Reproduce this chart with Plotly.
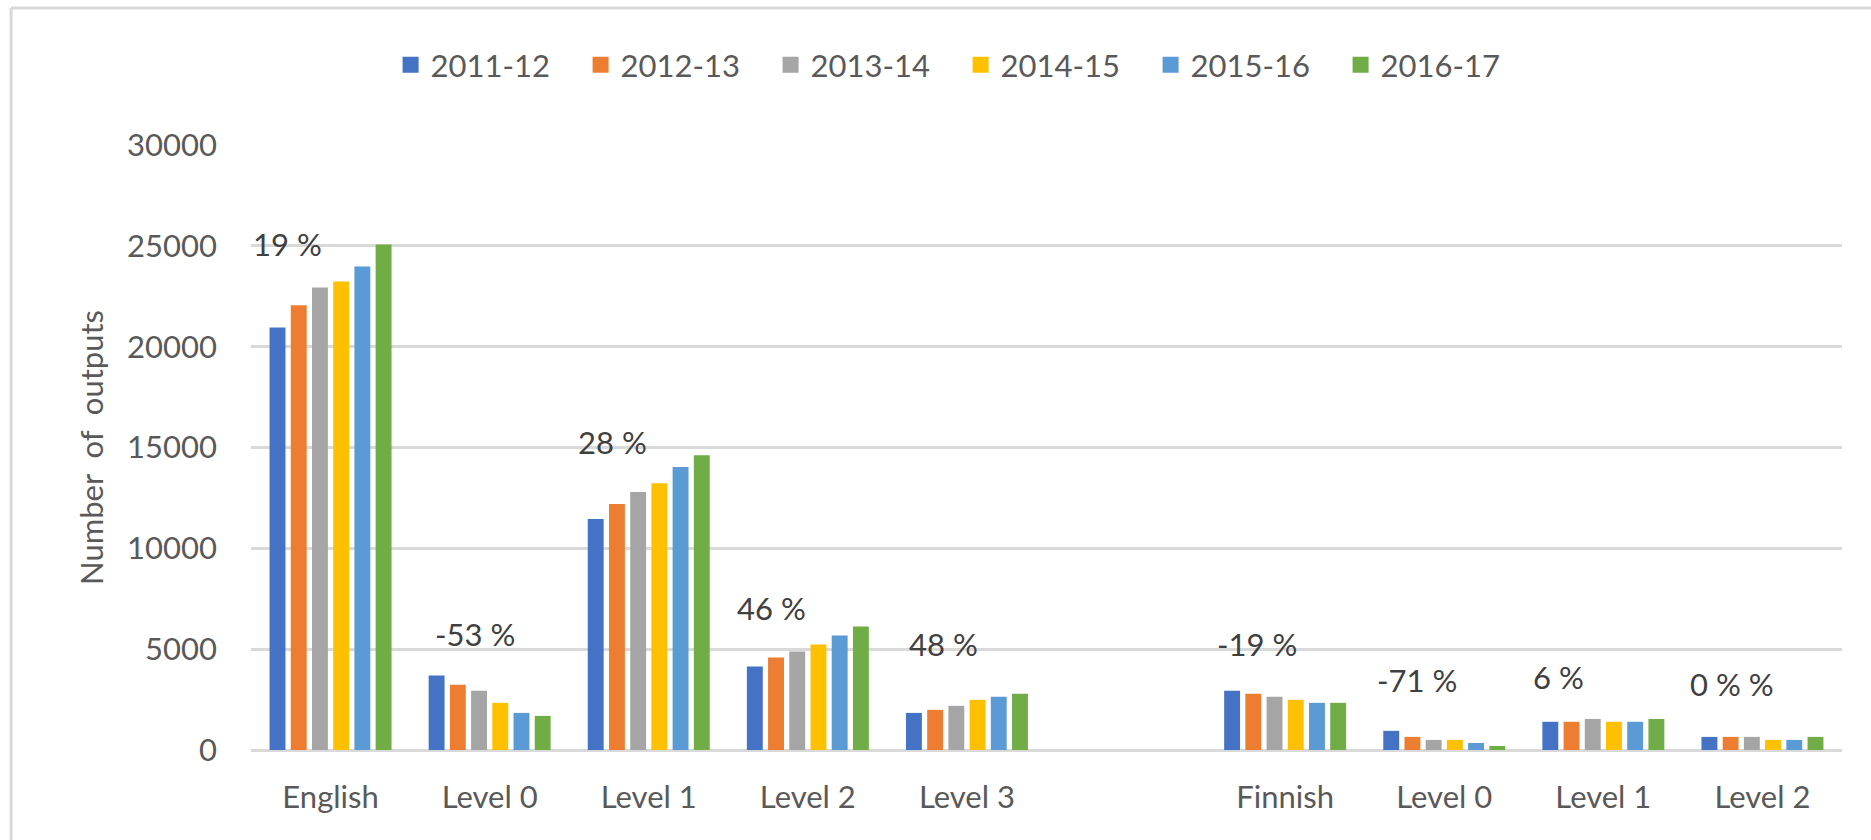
import plotly.graph_objects as go

categories = ["English", "Level 0", "Level 1", "Level 2", "Level 3", "",
              "Finnish", "Level 0", "Level 1", "Level 2"]
years = ["2011-12", "2012-13", "2013-14", "2014-15", "2015-16", "2016-17"]

# one list per year; None marks the empty slot between the two language groups
v_2011_12 = [20950, 3690, 11450, 4140, 1840, None, 2940, 950, 1400, 650]
v_2012_13 = [22050, 3240, 12200, 4590, 1990, None, 2790, 650, 1400, 650]
v_2013_14 = [22930, 2940, 12790, 4880, 2190, None, 2640, 500, 1540, 650]
v_2014_15 = [23230, 2340, 13230, 5230, 2490, None, 2490, 500, 1400, 500]
v_2015_16 = [23980, 1840, 14030, 5680, 2640, None, 2340, 350, 1400, 500]
v_2016_17 = [25070, 1690, 14620, 6130, 2790, None, 2340, 200, 1540, 650]

change_labels = ["19 %", "-53 %", "28 %", "46 %", "48 %", None,
                 "-19 %", "-71 %", "6 %", "0 % %"]

series = [v_2011_12, v_2012_13, v_2013_14, v_2014_15, v_2015_16, v_2016_17]
colors = ["#4472C4", "#ED7D31", "#A5A5A5", "#FFC000", "#5B9BD5", "#70AD47"]

# where the change labels sit (offset from the category, height in axis units)
label_dx = [-0.27, -0.09, -0.23, -0.23, -0.145, None, -0.18, -0.17, -0.28, -0.19]
label_y = [25100, 5750, 15250, 7050, 5250, None, 5250, 3450, 3600, 3290]

xpos = list(range(len(categories)))
grey = "#D9D9D9"
text_col = "#595959"

fig = go.Figure()

for year, vals, col in zip(years, series, colors):
    fig.add_trace(go.Bar(
        x=xpos,
        y=vals,
        name=year,
        marker=dict(color=col, line=dict(width=0)),
        showlegend=False
    ))
    # bigger square legend symbol than the bar default
    fig.add_trace(go.Scatter(
        x=[None], y=[None],
        mode='markers',
        name=year,
        marker=dict(color=col, symbol='square', size=18)
    ))

for i, txt in enumerate(change_labels):
    if txt is None:
        continue
    fig.add_annotation(
        x=xpos[i] + label_dx[i], y=label_y[i],
        text=txt, showarrow=False,
        font=dict(size=31, color="#404040")
    )

# light grey frame round the chart (top and left edges are visible)
fig.add_shape(type='line', xref='paper', yref='paper',
              x0=-0.1508, x1=1.02, y0=1.2264, y1=1.2264,
              line=dict(color=grey, width=3))
fig.add_shape(type='line', xref='paper', yref='paper',
              x0=-0.1508, x1=-0.1508, y0=1.2264, y1=-0.16,
              line=dict(color=grey, width=3))

fig.update_layout(
    width=1871,
    height=840,
    margin=dict(l=251, r=29, t=145, b=90),
    plot_bgcolor='white',
    paper_bgcolor='white',
    font=dict(family='Lato', size=31, color=text_col),
    barmode='group',
    bargap=0.2,
    bargroupgap=0.25,
    legend=dict(
        orientation='h',
        x=0.446, xanchor='center',
        y=1.132, yanchor='middle',
        entrywidth=145,
        itemsizing='trace',
        font=dict(size=31, color=text_col)
    ),
    xaxis=dict(
        range=[-0.5, len(categories) - 0.5],
        tickvals=xpos,
        ticktext=categories,
        showgrid=False,
        zeroline=False,
        showline=False,
        ticks='',
        ticklabelstandoff=26
    ),
    yaxis=dict(
        range=[0, 30000],
        dtick=5000,
        tickformat='d',
        showgrid=True,
        gridcolor=grey,
        gridwidth=3,
        zeroline=True,
        zerolinecolor=grey,
        zerolinewidth=3,
        ticks='',
        ticklabelstandoff=33,
        title=dict(text='Number  of  outputs', standoff=14,
                   font=dict(size=31, color=text_col))
    )
)

fig.write_html("out.html",
               config={'displayModeBar': False},
               post_script="document.body.style.margin='0';")
